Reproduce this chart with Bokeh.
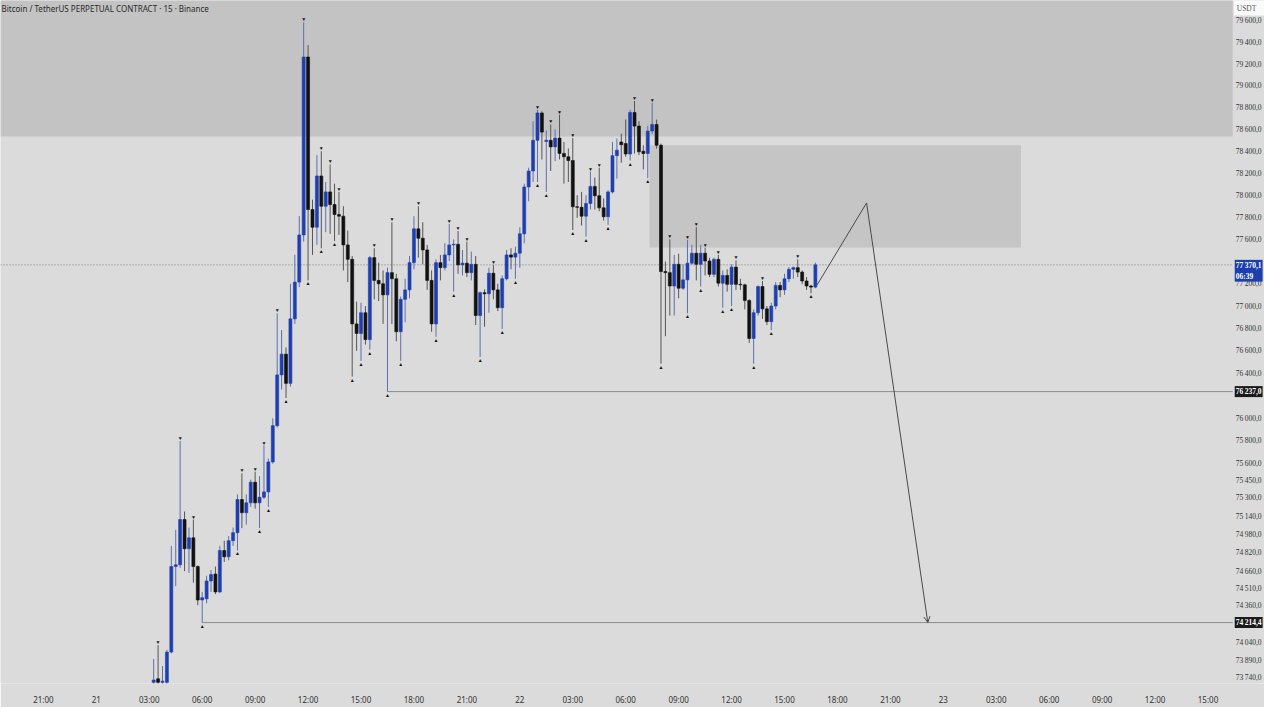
from bokeh.plotting import figure
from bokeh.models import Range1d, FixedTicker, Label, Arrow, OpenHead, BoxAnnotation, ColumnDataSource
from bokeh.embed import file_html
from bokeh.resources import INLINE

# 15-minute candles, BTCUSDT perp, starting 21 03:15 (hours since 21 00:00)
first_hour = 3.25
step = 0.25

opens = [73700, 73730, 73700, 73700, 73960, 74700, 74715, 75110, 74855, 74950,
         74700, 74410, 74420, 74575, 74635, 74480, 74840, 74785, 74925, 74995,
         75285, 75170, 75256, 75437, 75256, 75305, 75352, 75615, 75935, 76385,
         76570, 76310, 76885, 77215, 77640, 79265, 77870, 77710, 78175, 77900,
         78030, 77915, 77825, 77810, 77550, 77420, 76840, 76755, 76940, 76700,
         77435, 77230, 77200, 77100, 77300, 77245, 76770, 77060, 77145, 77390,
         77695, 77610, 77505, 77230, 76840, 77390, 77345, 77460, 77550, 77555,
         77370, 77385, 77300, 77375, 76915, 77120, 77110, 77295, 77145, 76985,
         77245, 77460, 77440, 77475, 77650, 78075, 78220, 78500, 78750, 78490,
         78500, 78440, 78520, 78380, 78350, 78315, 77895, 77890, 77810, 77925,
         78080, 77995, 77885, 77805, 78030, 78360, 78485, 78470, 78375, 78755,
         78630, 78400, 78380, 78585, 78645, 78455, 77310, 77300, 77180, 77375,
         77160, 77235, 77385, 77475, 77375, 77475, 77405, 77285, 77420, 77205,
         77275, 77195, 77350, 77195, 77190, 77050, 76710, 76940, 77175, 76975,
         76860, 77000, 77185, 77145, 77245, 77330, 77345, 77305, 77225, 77180,
         77170]
highs = [73900, 74020, 73840, 73980, 74880, 75020, 75800, 75180, 75040, 75110,
         74710, 74480, 74620, 74670, 74700, 74880, 74925, 74965, 75040, 75330,
         75515, 75330, 75460, 75530, 75490, 75760, 75645, 76000, 76935, 76785,
         76630, 77200, 77460, 77810, 79585, 79375, 77960, 78365, 78400, 78120,
         78280, 78105, 78030, 77900, 77680, 77450, 77040, 77030, 77000, 77450,
         77520, 77390, 77320, 77345, 77755, 77290, 77085, 77245, 77450, 77810,
         77900, 77755, 77550, 77320, 77420, 77460, 77565, 77740, 77600, 77675,
         77505, 77580, 77490, 77450, 77130, 77150, 77345, 77370, 77200, 77275,
         77505, 77520, 77535, 77710, 78105, 78250, 78675, 78780, 78765, 78590,
         78645, 78600, 78735, 78485, 78425, 78520, 78000, 78030, 78000, 78215,
         78160, 78250, 77970, 78045, 78485, 78515, 78560, 78690, 78780, 78860,
         78675, 78455, 78630, 78845, 78690, 78470, 77400, 77600, 77460, 77470,
         77375, 77595, 77550, 77710, 77550, 77525, 77435, 77435, 77460, 77320,
         77330, 77375, 77410, 77245, 77200, 77060, 76970, 77185, 77225, 77000,
         77030, 77215, 77215, 77290, 77350, 77355, 77420, 77320, 77260, 77190,
         77390]
lows = [73680, 73680, 73680, 73680, 73950, 74530, 74690, 74660, 74645, 74560,
        74365, 74214.4, 74380, 74480, 74460, 74470, 74740, 74755, 74880, 74840,
        75035, 75065, 75220, 75205, 75035, 75290, 75220, 75600, 75920, 76255,
        76180, 76280, 76840, 77170, 77580, 77230, 77460, 77550, 77520, 77665,
        77650, 77585, 77640, 77320, 77215, 76370, 76600, 76510, 76655, 76610,
        77060, 77045, 76840, 76237, 76840, 76685, 76510, 76855, 77070, 77330,
        77435, 77375, 77145, 76770, 76725, 77230, 77320, 77405, 77130, 77290,
        77275, 77260, 77230, 76830, 76545, 76815, 76940, 77060, 76955, 76795,
        77230, 77330, 77245, 77345, 77565, 77945, 78120, 78120, 78325, 78030,
        78220, 78310, 78325, 78105, 78120, 77685, 77795, 77725, 77625, 77870,
        77870, 77855, 77770, 77730, 78015, 78150, 78295, 78350, 78315, 78380,
        78365, 78235, 78155, 78555, 78425, 76485, 76730, 76915, 76915, 77070,
        77145, 76935, 77370, 77230, 77175, 77275, 77260, 77260, 77175, 76985,
        77130, 77000, 77145, 77145, 76970, 76670, 76485, 76915, 76885, 76830,
        76785, 76970, 77080, 77100, 77215, 77245, 77260, 77195, 77145, 77115,
        77160]
closes = [73720, 73700, 73710, 73960, 74700, 74715, 75110, 74855, 74950, 74700,
          74410, 74430, 74575, 74630, 74480, 74840, 74785, 74925, 74995, 75285,
          75170, 75256, 75437, 75256, 75305, 75352, 75615, 75935, 76385, 76570,
          76310, 76885, 77215, 77640, 79265, 77870, 77710, 78175, 77900, 78030,
          77915, 77825, 77810, 77550, 77420, 76840, 76755, 76940, 76700, 77435,
          77230, 77200, 77100, 77300, 77245, 76770, 77060, 77145, 77390, 77695,
          77610, 77505, 77230, 76840, 77390, 77345, 77460, 77550, 77555, 77370,
          77385, 77300, 77375, 76915, 77120, 77110, 77295, 77145, 76985, 77245,
          77460, 77440, 77475, 77650, 78075, 78220, 78500, 78750, 78575, 78500,
          78440, 78520, 78380, 78350, 78315, 77895, 77890, 77810, 77925, 78080,
          77995, 77885, 77805, 78030, 78360, 78410, 78460, 78375, 78755, 78630,
          78395, 78380, 78585, 78645, 78455, 77310, 77300, 77180, 77375, 77160,
          77235, 77385, 77475, 77375, 77475, 77405, 77285, 77420, 77205, 77275,
          77195, 77350, 77195, 77190, 77050, 76710, 76940, 77175, 76975, 76860,
          77000, 77185, 77145, 77245, 77330, 77345, 77305, 77225, 77180, 77170,
          77370.1]

# candle numbers (0-based) carrying the swing high / swing low marks
high_marks = [1, 6, 9, 20, 23, 25, 28, 34, 38, 40, 42, 50, 54, 60, 67, 69, 71, 77,
              87, 90, 92, 95, 99, 101, 109, 113, 117, 121, 123, 125, 128, 132, 138, 146]
low_marks = [11, 19, 24, 26, 30, 35, 38, 41, 45, 47, 49, 53, 56, 64, 68, 74, 79, 82,
             87, 89, 95, 98, 103, 108, 112, 115, 121, 124, 129, 131, 136, 140, 149]

y_ticks = [79600, 79400, 79200, 79000, 78800, 78600, 78400, 78200, 78000, 77800,
           77600, 77200, 77000, 76800, 76600, 76400, 76000, 75800, 75600, 75450,
           75300, 75140, 74980, 74820, 74660, 74510, 74360, 74040, 73890, 73740]
x_ticks = list(range(-3, 64, 3))
x_tick_labels = ["21:00", "21", "03:00", "06:00", "09:00", "12:00", "15:00", "18:00", "21:00",
                 "22", "03:00", "06:00", "09:00", "12:00", "15:00", "18:00", "21:00",
                 "23", "03:00", "06:00", "09:00", "12:00", "15:00"]

last_price = 77370.1
last_tag = "77\u2009370,1\n06:39"
levels = [76237.0, 74214.4]
level_tags = ["76\u2009237,0", "74\u2009214,4"]
level_start = [16.5, 6.0]
supply_bottom, supply_top = 78535, 80000
box_left, box_right, box_bottom, box_top = 31.35, 52.4, 77527, 78455
path_x = [40.85, 43.65, 47.12]
path_y = [77190, 77930, 74214.4]

x_lo, x_hi = -5.43, 66.2
scale_x = 64.4          # where the price scale strip starts
y_lo, y_hi = 73690, 79788

BLUE = "#1f3fae"
BLACK = "#111111"
FONT = "Noto Sans"

times = [first_hour + step * i for i in range(len(opens))]
up = [c >= o for o, c in zip(opens, closes)]
src = ColumnDataSource(dict(
    t=times, o=opens, h=highs, l=lows, c=closes,
    top=[max(o, c) for o, c in zip(opens, closes)],
    bot=[min(o, c) for o, c in zip(opens, closes)],
    body=[BLUE if u else BLACK for u in up],
    wick=["#5d6fb0" if u else "#555555" for u in up],
))

p = figure(width=1264, height=707, y_axis_type="log",
           x_range=Range1d(x_lo, x_hi), y_range=Range1d(y_lo, y_hi),
           output_backend="svg", toolbar_location=None,
           min_border_left=0, min_border_top=0, min_border_right=0, min_border_bottom=0)
p.background_fill_color = "#dbdbdb"
p.border_fill_color = "#dbdbdb"
p.outline_line_color = None
p.grid.visible = False
p.yaxis.visible = False

p.add_layout(BoxAnnotation(bottom=supply_bottom, top=supply_top, right=scale_x,
                           fill_color="#c3c3c3", fill_alpha=1, line_color=None, level="underlay"))
p.add_layout(BoxAnnotation(left=box_left, right=box_right, bottom=box_bottom, top=box_top,
                           fill_color="#c5c5c5", fill_alpha=1, line_color=None, level="underlay"))

p.segment(x0=[x_lo], y0=[last_price], x1=[scale_x], y1=[last_price],
          line_color="#7a7a7a", line_width=1, line_dash="1 2")
p.segment(x0=level_start, y0=levels, x1=[scale_x] * len(levels), y1=levels,
          line_color="#8c8c8c", line_width=1)

p.segment(x0="t", y0="h", x1="t", y1="l", source=src, line_color="wick", line_width=1)
p.vbar(x="t", width=0.17, top="top", bottom="bot", source=src,
       fill_color="body", line_color="body", line_width=0.6)

p.text(x=[times[i] for i in high_marks], y=[highs[i] for i in high_marks],
       text=["\u25bc"] * len(high_marks), text_align="center", text_baseline="bottom",
       text_font_size="5px", text_color="#111111")
p.text(x=[times[i] for i in low_marks], y=[lows[i] for i in low_marks],
       text=["\u25b2"] * len(low_marks), text_align="center", text_baseline="top",
       text_font_size="5px", text_color="#111111")

p.line(path_x[:2], path_y[:2], line_color="#4a4a4a", line_width=1)
p.add_layout(Arrow(end=OpenHead(size=6, line_color="#4a4a4a", line_width=1),
                   x_start=path_x[1], y_start=path_y[1], x_end=path_x[2], y_end=path_y[2],
                   line_color="#4a4a4a", line_width=1))

# price scale strip on the right
p.text(x=[scale_x] * len(y_ticks), y=y_ticks,
       text=[f"{v:,}".replace(",", "\u2009") + ",0" for v in y_ticks],
       x_offset=3, text_align="left", text_baseline="middle",
       text_font=FONT, text_font_size="7.5px", text_color="#333333")
p.text(x=[scale_x], y=[y_hi], text=["USDT"], x_offset=1, y_offset=0,
       text_align="left", text_baseline="top", text_font=FONT, text_font_size="7.5px",
       text_color="#555555", background_fill_color="#fafafa", padding=[3, 12, 3, 3])
p.text(x=[scale_x], y=[last_price], text=[last_tag], x_offset=2, y_offset=-5,
       text_align="left", text_baseline="top", text_font=FONT, text_font_size="7.5px",
       text_font_style="bold", text_color="white", background_fill_color="#1c3fae",
       padding=1)
p.text(x=[scale_x] * len(levels), y=levels, text=level_tags, x_offset=2,
       text_align="left", text_baseline="middle", text_font=FONT, text_font_size="7.5px",
       text_font_style="bold", text_color="white", background_fill_color="#1a1a1a",
       padding=1)

xa = p.xaxis[0]
xa.ticker = FixedTicker(ticks=x_ticks)
xa.major_label_overrides = {t: s for t, s in zip(x_ticks, x_tick_labels)}
xa.axis_line_color = None
xa.major_tick_line_color = None
xa.minor_tick_line_color = None
xa.major_label_text_font = FONT
xa.major_label_text_font_size = "8px"
xa.major_label_text_color = "#333333"
xa.major_label_standoff = 4

p.add_layout(Label(x=x_lo, y=y_hi, x_offset=1, y_offset=-2, text_baseline="top",
                   text="Bitcoin / TetherUS PERPETUAL CONTRACT \u00b7 15 \u00b7 Binance",
                   text_font=FONT, text_font_size="8px", text_color="#2a2a2a"))

open("out.html", "w").write(file_html(p, INLINE))
